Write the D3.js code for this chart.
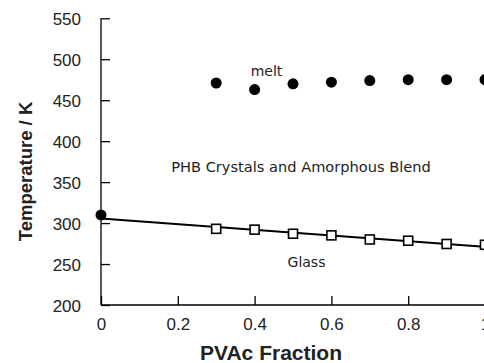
<!DOCTYPE html>
<html>
<head>
<meta charset="utf-8">
<script src="https://cdn.jsdelivr.net/npm/d3@7"></script>
<style>
    body { margin: 0; background: #fff; }
    svg text { font-family: "Liberation Sans", Arial, sans-serif; fill: #222; }
    svg text.region { font-family: "DejaVu Sans", sans-serif; }
    .axis path, .axis line { stroke: #000; stroke-width: 1.3; }
</style>
</head>
<body>
<div id="chart"></div>
<script>
const [svgW, svgH] = [484, 363];

// data
const meltX = [0, 0.3, 0.4, 0.5, 0.6, 0.7, 0.8, 0.9, 1.0];
const meltT = [310, 471, 463, 470, 472, 474, 475, 475, 475];
const glassX = [0.3, 0.4, 0.5, 0.6, 0.7, 0.8, 0.9, 1.0];
const glassT = [293, 292, 287, 285, 280, 278.5, 274.5, 273.5];
const fitX = [0, 1];
const fitT = [305.5, 271];
const xTicks = [0, 0.2, 0.4, 0.6, 0.8, 1];
const yTicks = [200, 250, 300, 350, 400, 450, 500, 550];

const x = d3.scaleLinear().domain([0, 1]).range([101, 485]);
const y = d3.scaleLinear().domain([200, 550]).range([305, 18.3]);

const svg = d3.select("#chart").append("svg").attr("width", svgW).attr("height", svgH);

// axes
let xAxis = svg.append("g").attr("class", "axis").attr("transform", "translate(0,305)")
    .call(d3.axisTop(x).tickValues(xTicks).tickSize(9).tickFormat(d3.format("")));
xAxis.select(".domain").attr("d", "M101,0H484");
xAxis.selectAll("text").attr("y", 25).attr("dy", 0).style("font-size", "17px");

let yAxis = svg.append("g").attr("class", "axis").attr("transform", "translate(101,0)")
    .call(d3.axisRight(y).tickValues(yTicks).tickSize(9));
yAxis.select(".domain").attr("d", "M0,18.3V305");
yAxis.selectAll("text").attr("x", -20).attr("dy", "0.36em").attr("text-anchor", "end")
    .style("font-size", "17px");
svg.selectAll(".axis text").attr("fill", "#222");

// fit line through the glass points
let line = d3.line().x(function (d) { return x(d[0]); }).y(function (d) { return y(d[1]); });
svg.append("path").datum(d3.zip(fitX, fitT)).attr("d", line)
    .attr("fill", "none").attr("stroke", "#000").attr("stroke-width", 2);

// glass squares
svg.selectAll("rect.glass").data(d3.zip(glassX, glassT)).enter().append("rect")
    .attr("class", "glass")
    .attr("x", function (d) { return x(d[0]) - 4.5; })
    .attr("y", function (d) { return y(d[1]) - 4.5; })
    .attr("width", 9).attr("height", 9)
    .attr("fill", "#fff").attr("stroke", "#000").attr("stroke-width", 1.6);

// melt circles
svg.selectAll("circle.melt").data(d3.zip(meltX, meltT)).enter().append("circle")
    .attr("class", "melt")
    .attr("cx", function (d) { return x(d[0]); })
    .attr("cy", function (d) { return y(d[1]); })
    .attr("r", 5.5).attr("fill", "#000");

// region labels
svg.append("text").attr("class", "region").attr("x", 266.5).attr("y", 76).attr("text-anchor", "middle")
    .style("font-size", "14px").text("melt");
svg.append("text").attr("class", "region").attr("x", 301).attr("y", 171.5).attr("text-anchor", "middle")
    .style("font-size", "14.6px").text("PHB Crystals and Amorphous Blend");
svg.append("text").attr("class", "region").attr("x", 306.5).attr("y", 267).attr("text-anchor", "middle")
    .style("font-size", "14px").text("Glass");

// axis titles
svg.append("text").attr("x", 271).attr("y", 360).attr("text-anchor", "middle")
    .style("font-size", "21px").style("font-weight", "bold").attr("fill", "#111")
    .text("PVAc Fraction");
svg.append("text").attr("transform", "translate(32,171.5) rotate(-90)").attr("text-anchor", "middle")
    .style("font-size", "18.5px").style("font-weight", "bold").attr("fill", "#111")
    .text("Temperature / K");
</script>
</body>
</html>
